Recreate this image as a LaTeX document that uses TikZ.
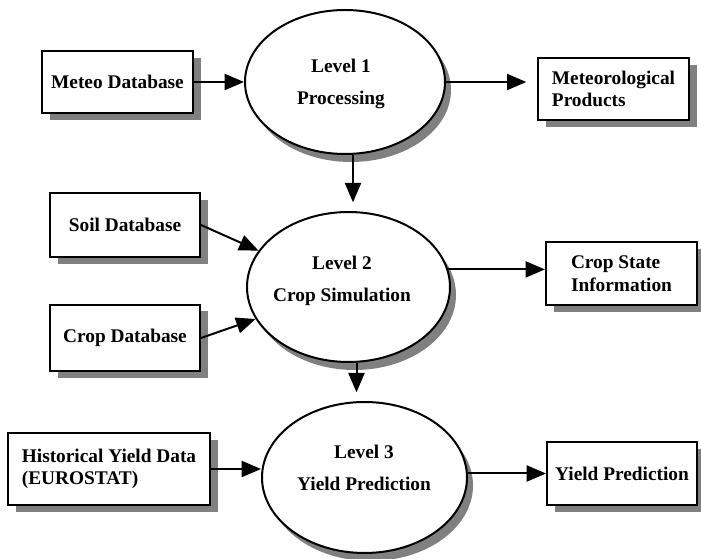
\documentclass[tikz,border=0pt]{standalone}
\usepackage{fontspec}
\setmainfont{Liberation Serif}
\usetikzlibrary{arrows.meta,shapes.geometric,shadows,calc}
\begin{document}
\begin{tikzpicture}[x=0.75pt,y=-0.75pt,
  font=\fontsize{14.5}{17}\selectfont\bfseries,
  dbox/.style={draw, line width=1.5pt, fill=white, inner sep=0pt, align=left,
    drop shadow={shadow xshift=6pt, shadow yshift=-5pt, fill=black!50, opacity=1}},
  proc/.style={draw, ellipse, line width=1.5pt, fill=white, inner sep=0pt,
    drop shadow={shadow xshift=4.5pt, shadow yshift=-6pt, fill=black!50, opacity=1}},
  etext/.style={align=center, inner sep=0pt, font=\fontsize{14.5}{24.5}\selectfont\bfseries},
  arr/.style={line width=1.5pt, -{Triangle[length=14.5pt,width=12pt]}}]
\fill[white] (0,0) rectangle (701,559);
\useasboundingbox (0,0) rectangle (701,559);

% process ellipses
\node[proc, minimum width=150pt, minimum height=108pt] (e1) at (345,82) {};
\node[proc, minimum width=152.25pt, minimum height=112.5pt] (e2) at (348.5,287) {};
\node[proc, minimum width=153.75pt, minimum height=113.25pt] (e3) at (364.5,477.5) {};
\node[etext] (t1) at (341,84) {Level 1\\Processing};
\node[etext] (t2) at (342,281) {Level 2\\Crop Simulation};
\node[etext] (t3) at (364,468) {Level 3\\Yield Prediction};

% data boxes
\node[dbox, minimum width=113.25pt, minimum height=46.5pt] (meteo) at (117.5,82) {Meteo Database};
\node[dbox, minimum width=113.25pt, minimum height=46.5pt] (metprod) at (613.5,89) {Meteorological\\Products};
\node[dbox, minimum width=112.5pt, minimum height=48pt] (soil) at (125,225) {Soil Database};
\node[dbox, minimum width=112.5pt, minimum height=50pt] (crop) at (125,338) {Crop Database};
\node[dbox, minimum width=113.25pt, minimum height=47.25pt] (cropstate) at (621.5,273.5) {Crop State\\Information};
\node[dbox, minimum width=151.5pt, minimum height=54pt] (hist) at (109,469) {Historical Yield Data\\(EUROSTAT)};
\node[dbox, minimum width=112.5pt, minimum height=47.25pt] (yieldpred) at (622,473.5) {Yield Prediction};

% connectors
\draw[arr] (meteo.east) -- (meteo.east -| e1.west);
\draw[arr, shorten >=8pt] (e1.east) -- (e1.east -| metprod.west);
\draw[arr, shorten >=6.5pt] ([xshift=6pt]e1.south) -- ([xshift=6pt]e1.south |- e2.north);
\draw[arr] (soil.east) -- (e2.158);
\draw[arr] (crop.east) -- (e2.199);
\draw[arr] (e2.10) -- (e2.10 -| cropstate.west);
\draw[arr, shorten >=6.5pt] ([xshift=6pt]e2.south) -- ([xshift=6pt]e2.south |- e3.north);
\draw[arr] (hist.east) -- (hist.east -| e3.west);
\draw[arr] (yieldpred.west -| e3.east) -- (yieldpred.west);
\end{tikzpicture}
\end{document}
